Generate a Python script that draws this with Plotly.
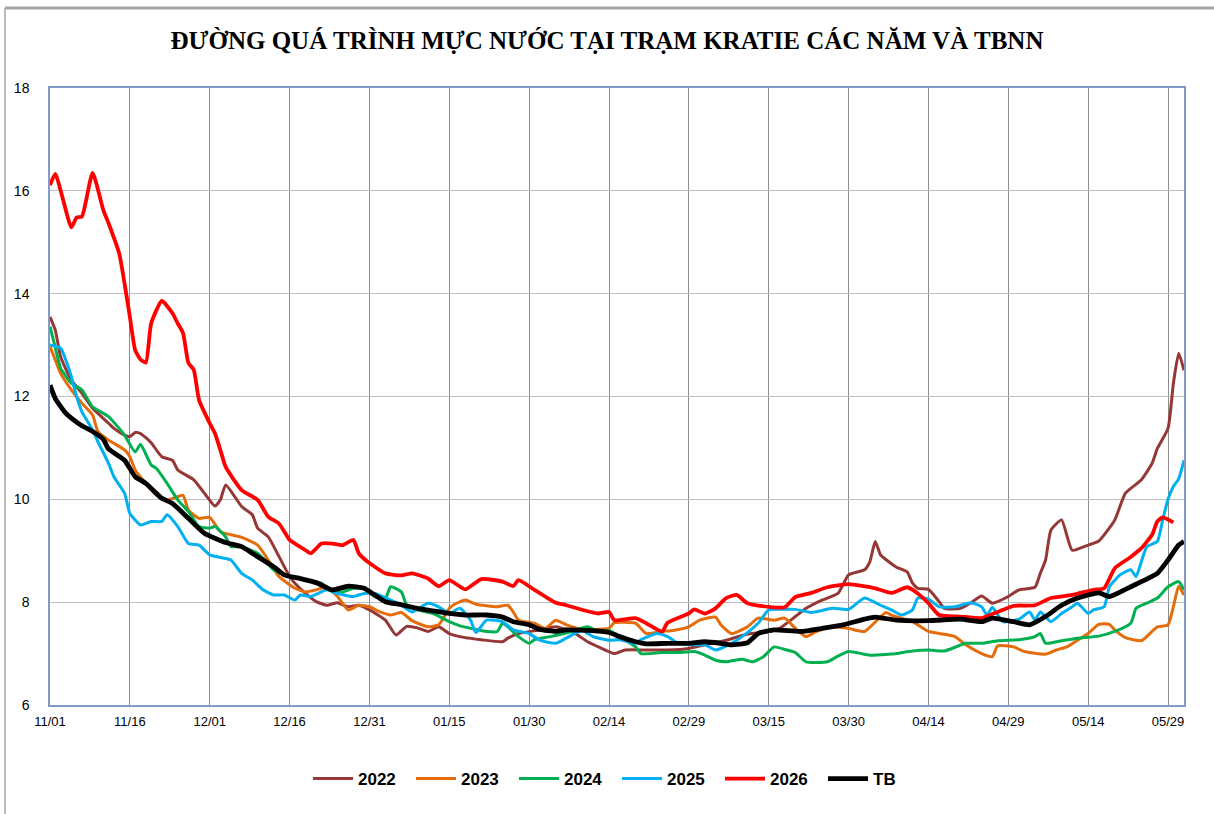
import datetime as dt
import plotly.graph_objects as go

# ---------------- data (day offsets from 11/01, water level m) ----------------
base_date = dt.date(2023, 11, 1)

days_2022 = [0,1,2,4,6,8,11,12,14,15,16,17,18,19,21,23,24,27,29,31,32,33,36,38,39,41,43,45,46,48,50,52,54,56,58,60,63,65,67,69,71,73,75,78,81,85,86,88,92,95,98,101,103,106,108,112,116,120,123,127,131,135,137,140,142,145,148,150,153,154,155,156,157,159,161,162,163,165,167,168,171,173,175,177,180,182,185,186,187,188,190,192,195,197,200,202,205,207,208,210,211,212,213]
vals_2022 = [13.55,13.29,12.77,12.32,12.06,11.77,11.48,11.38,11.25,11.22,11.30,11.28,11.20,11.10,10.83,10.76,10.57,10.38,10.12,9.87,9.99,10.28,9.86,9.70,9.44,9.27,8.89,8.50,8.37,8.17,8.01,7.94,7.99,7.91,7.94,7.85,7.65,7.36,7.53,7.50,7.43,7.52,7.39,7.31,7.27,7.23,7.30,7.39,7.46,7.52,7.43,7.23,7.13,7.00,7.07,7.07,7.07,7.10,7.17,7.26,7.38,7.43,7.49,7.72,7.88,8.04,8.17,8.53,8.63,8.79,9.18,8.92,8.83,8.68,8.59,8.37,8.27,8.25,8.01,7.88,7.88,7.99,8.12,7.98,8.11,8.24,8.29,8.56,8.82,9.40,9.60,9.01,9.11,9.19,9.60,10.12,10.38,10.70,10.99,11.38,12.25,12.84,12.51]

days_2023 = [0,1,2,4,6,8,9,11,12,14,15,16,18,20,22,24,25,26,28,30,32,34,36,39,41,43,46,48,50,52,54,56,58,60,62,64,66,68,71,73,75,76,78,80,84,86,87,88,91,93,95,97,100,102,105,106,110,112,115,117,120,122,125,126,128,131,133,136,138,140,142,144,147,150,153,157,158,162,165,167,170,172,175,177,178,181,183,187,189,191,193,195,197,199,200,202,205,207,208,210,211,212,213]
vals_2023 = [12.97,12.71,12.45,12.13,11.87,11.64,11.32,11.15,11.09,10.96,10.83,10.57,10.31,10.08,9.99,10.05,10.08,9.79,9.63,9.65,9.37,9.31,9.26,9.11,8.82,8.50,8.27,8.20,8.24,8.30,8.11,7.85,7.94,7.91,7.81,7.75,7.80,7.64,7.52,7.56,7.88,7.96,8.04,7.96,7.91,7.94,7.81,7.65,7.59,7.49,7.65,7.56,7.47,7.47,7.49,7.60,7.59,7.39,7.43,7.45,7.52,7.65,7.71,7.56,7.39,7.52,7.69,7.65,7.69,7.49,7.33,7.43,7.52,7.49,7.43,7.80,7.75,7.62,7.43,7.39,7.33,7.17,7.00,6.94,7.15,7.13,7.04,6.99,7.07,7.13,7.26,7.39,7.57,7.57,7.46,7.31,7.25,7.43,7.52,7.56,7.91,8.31,8.14]

days_2024 = [0,1,2,4,6,8,11,13,14,16,17,19,20,22,24,26,28,30,31,33,34,36,39,42,44,48,51,53,55,57,59,61,63,64,66,67,69,72,75,77,80,82,84,85,86,88,90,91,94,98,101,103,105,107,110,111,115,118,121,123,125,127,130,132,134,136,138,140,142,146,148,150,154,158,162,165,168,172,175,178,182,185,186,187,190,193,197,200,203,204,206,208,210,212,213]
vals_2024 = [13.36,12.95,12.55,12.26,12.13,11.80,11.61,11.38,11.25,10.92,11.07,10.67,10.60,10.31,9.99,9.76,9.47,9.44,9.47,9.27,9.08,9.08,8.95,8.63,8.53,8.43,8.37,8.20,8.20,8.27,8.27,8.11,8.08,8.30,8.20,7.94,7.85,7.78,7.62,7.54,7.47,7.43,7.43,7.59,7.52,7.33,7.20,7.27,7.33,7.43,7.52,7.43,7.45,7.33,7.13,7.00,7.02,7.02,7.04,6.97,6.87,6.84,6.89,6.84,6.94,7.13,7.08,7.02,6.84,6.84,6.95,7.04,6.97,6.99,7.05,7.07,7.05,7.20,7.20,7.25,7.27,7.33,7.39,7.20,7.25,7.30,7.34,7.43,7.59,7.88,7.98,8.08,8.30,8.40,8.24]

days_2025 = [0,2,3,4,5,6,8,9,11,12,14,15,17,19,21,22,24,26,28,30,33,34,36,38,40,42,44,46,47,49,52,54,57,59,61,64,66,68,71,73,75,77,79,80,82,85,87,90,92,95,98,100,102,105,107,110,111,114,116,118,121,123,125,128,130,133,135,137,140,143,147,150,153,156,158,160,162,163,165,167,170,173,175,176,177,179,182,184,185,186,188,190,192,193,195,196,198,199,201,203,204,206,208,209,210,211,212,213]
vals_2025 = [13.00,12.94,12.70,12.39,12.00,11.70,11.35,11.12,10.70,10.44,10.12,9.73,9.50,9.57,9.57,9.70,9.47,9.14,9.11,8.92,8.85,8.82,8.56,8.43,8.24,8.14,8.14,8.04,8.14,8.11,8.24,8.17,8.11,8.17,8.17,8.04,7.94,7.81,7.98,7.91,7.78,7.88,7.65,7.41,7.65,7.62,7.46,7.39,7.26,7.20,7.36,7.45,7.33,7.26,7.27,7.20,7.27,7.39,7.33,7.20,7.17,7.17,7.07,7.20,7.33,7.59,7.85,7.86,7.86,7.80,7.88,7.86,8.08,7.94,7.85,7.75,7.85,8.08,8.06,7.91,7.91,7.99,7.91,7.75,7.90,7.62,7.67,7.81,7.65,7.81,7.62,7.78,7.91,7.98,7.78,7.85,7.91,8.30,8.53,8.63,8.50,9.08,9.18,9.60,10.00,10.25,10.40,10.76]

days_2026 = [0,1,4,5,6,8,10,11,13,14,15,16,17,18,19,21,23,24,25,26,27,28,30,31,32,33,36,39,41,43,45,46,48,49,51,53,55,57,58,60,63,66,68,71,73,75,78,81,85,87,88,91,93,95,97,100,103,105,106,110,112,115,116,120,121,123,125,127,129,131,135,138,140,143,146,150,155,158,161,163,165,167,171,175,178,181,185,188,192,196,198,200,203,205,207,208,209,211]
vals_2026 = [16.11,16.33,15.29,15.48,15.50,16.35,15.63,15.37,14.78,14.20,13.55,12.90,12.72,12.66,13.42,13.86,13.62,13.42,13.23,12.65,12.52,11.93,11.48,11.28,10.96,10.63,10.18,9.99,9.66,9.53,9.21,9.14,9.01,8.95,9.14,9.14,9.11,9.21,8.95,8.76,8.56,8.52,8.56,8.46,8.31,8.43,8.25,8.45,8.40,8.31,8.43,8.24,8.11,7.99,7.94,7.85,7.78,7.81,7.65,7.69,7.59,7.43,7.60,7.78,7.86,7.78,7.88,8.08,8.14,7.98,7.91,7.90,8.10,8.18,8.29,8.35,8.27,8.18,8.29,8.17,7.98,7.75,7.72,7.69,7.81,7.93,7.94,8.08,8.14,8.24,8.27,8.66,8.88,9.05,9.31,9.57,9.65,9.55]

days_tb = [0,1,3,4,6,8,10,11,14,16,18,21,23,26,29,33,36,38,42,44,47,50,53,56,59,61,63,66,69,72,75,78,82,85,87,90,92,95,97,101,105,107,110,112,116,120,123,126,128,131,133,136,141,145,149,153,155,159,165,171,175,177,181,184,187,190,193,197,199,202,205,208,210,212,213]
vals_tb = [12.22,11.96,11.67,11.58,11.43,11.32,11.17,10.98,10.76,10.44,10.31,10.02,9.92,9.63,9.34,9.16,9.08,8.95,8.69,8.53,8.46,8.38,8.24,8.31,8.27,8.14,8.01,7.95,7.88,7.83,7.78,7.75,7.75,7.71,7.62,7.56,7.47,7.43,7.46,7.45,7.41,7.33,7.23,7.19,7.20,7.20,7.23,7.20,7.17,7.21,7.39,7.46,7.43,7.49,7.56,7.67,7.71,7.65,7.64,7.67,7.62,7.69,7.62,7.56,7.72,7.94,8.08,8.18,8.11,8.25,8.40,8.56,8.82,9.11,9.18]

series_names = ["2022", "2023", "2024", "2025", "2026", "TB"]
series_days = [days_2022, days_2023, days_2024, days_2025, days_2026, days_tb]
series_vals = [vals_2022, vals_2023, vals_2024, vals_2025, vals_2026, vals_tb]
series_colors = ["#953735", "#E46C0A", "#00B050", "#00B0F0", "#FF0000", "#000000"]
series_widths = [3, 3, 3, 3, 3.8, 4.8]

title_text = "ĐƯỜNG QUÁ TRÌNH MỰC NƯỚC TẠI TRẠM KRATIE CÁC NĂM VÀ TBNN"

# ---------------- figure ----------------
def to_dates(days):
    return [base_date + dt.timedelta(days=d) for d in days]

fig = go.Figure()
for name, d, v, c, w in zip(series_names, series_days, series_vals, series_colors, series_widths):
    fig.add_trace(go.Scatter(
        x=to_dates(d), y=v, name=name, mode="lines",
        line=dict(color=c, width=w, shape="spline", smoothing=0.5),
    ))

W, H = 1214, 814
L, R, T, B = 50, 30, 88, 109
pw, ph = W - L - R, H - T - B

def px_x(x):
    return (x - L) / pw

def px_y(y):
    return (H - B - y) / ph

fig.update_layout(
    width=W, height=H, autosize=False,
    margin=dict(l=L, r=R, t=T, b=B),
    paper_bgcolor="white", plot_bgcolor="white",
    title=dict(text="<b>" + title_text + "</b>", x=0.5, xanchor="center",
               y=1 - 40 / H, yanchor="middle", yref="container",
               font=dict(family="Liberation Serif, Times New Roman, serif", size=25, color="black")),
    showlegend=True,
    legend=dict(orientation="h", x=0.5, xanchor="center", y=px_y(779), yanchor="middle",
                font=dict(family="Liberation Sans, Arial, sans-serif", size=17, color="black", weight="bold"),
                entrywidth=48, entrywidthmode="pixels", itemwidth=40,
                bgcolor="rgba(0,0,0,0)"),
    xaxis=dict(
        type="date",
        range=[base_date, base_date + dt.timedelta(days=213)],
        tick0=base_date, dtick=15 * 86400000, tickformat="%m/%d",
        showgrid=True, gridcolor="#8C8C8C", gridwidth=1,
        showline=True, linecolor="#7F9CC6", linewidth=1.5, mirror=True,
        ticks="", ticklabelstandoff=4,
        tickfont=dict(family="Liberation Sans, Arial, sans-serif", size=13, color="black"),
        zeroline=False,
    ),
    yaxis=dict(
        range=[6, 18], dtick=2, tick0=6,
        showgrid=True, gridcolor="#BFBFBF", gridwidth=1.3,
        showline=True, linecolor="#7F9CC6", linewidth=1.5, mirror=True,
        ticks="", ticklabelstandoff=16,
        tickfont=dict(family="Liberation Sans, Arial, sans-serif", size=14, color="black"),
        zeroline=False,
    ),
    shapes=[
        dict(type="line", xref="paper", yref="paper", x0=px_x(5), x1=px_x(1214),
             y0=px_y(8), y1=px_y(8), line=dict(color="#A6A6A6", width=3)),
        dict(type="line", xref="paper", yref="paper", x0=px_x(5), x1=px_x(5),
             y0=px_y(8), y1=px_y(814), line=dict(color="#A6A6A6", width=1.5)),
    ],
)

fig.write_html("out.html",
               config={"displayModeBar": False},
               post_script="document.body.style.margin='0';document.body.style.overflow='hidden';")
